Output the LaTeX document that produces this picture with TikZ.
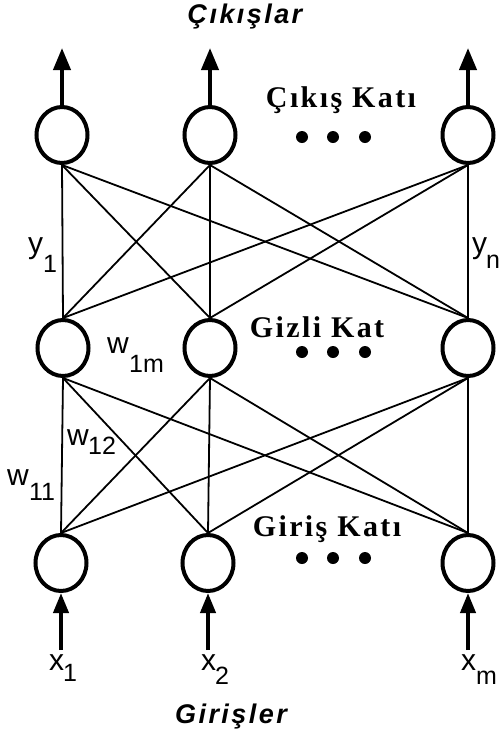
\documentclass[tikz,border=0pt]{standalone}
\usepackage{fontspec}
\usetikzlibrary{shapes.geometric,arrows.meta}
\newfontfamily\labfont{Liberation Sans}
\newfontfamily\titfont[LetterSpace=9]{Liberation Sans}
\newfontfamily\layfont[LetterSpace=8]{Liberation Serif}
\tikzset{
  neuron/.style={ellipse,draw,line width=4pt,minimum width=51pt,minimum height=56pt,inner sep=0pt},
  conn/.style={line width=1.8pt},
  outarrow/.style={line width=4pt,-{Triangle[length=22pt,width=17pt]}},
  inarrow/.style={line width=4pt,-{Triangle[length=20pt,width=15pt]}},
  mainlab/.style={anchor=base west,inner sep=0pt,font=\labfont\fontsize{30}{30}\selectfont},
  sublab/.style={anchor=base west,inner sep=0pt,font=\labfont\fontsize{25}{25}\selectfont},
  titlelab/.style={anchor=base,inner sep=0pt,font=\titfont\bfseries\itshape\fontsize{27}{27}\selectfont},
  layerlab/.style={anchor=base,inner sep=0pt,font=\layfont\bfseries\fontsize{30}{30}\selectfont},
  bigdot/.style={circle,fill,inner sep=0pt,minimum size=12pt}
}
\begin{document}
\begin{tikzpicture}[x=1pt,y=-1pt]
\useasboundingbox (0,0) rectangle (499,737);
% neurons
\node[neuron] (o1) at (62,135) {};
\node[neuron] (o2) at (210,135) {};
\node[neuron] (o3) at (468,135) {};
\node[neuron] (h1) at (63,348) {};
\node[neuron] (h2) at (210,348) {};
\node[neuron] (h3) at (468,348) {};
\node[neuron] (i1) at (61,563) {};
\node[neuron] (i2) at (208,563) {};
\node[neuron] (i3) at (468,563) {};
% connections
\foreach \a in {o1,o2,o3}{
  \foreach \b in {h1,h2,h3}{
    \draw[conn] (\a.south) -- (\b.north);
  }
}
\foreach \a in {h1,h2,h3}{
  \foreach \b in {i1,i2,i3}{
    \draw[conn] (\a.south) -- (\b.north);
  }
}
% output arrows
\coordinate (t1) at (62,48);
\coordinate (t2) at (210,48);
\coordinate (t3) at (468,48);
\draw[outarrow] (o1.north) -- (t1);
\draw[outarrow] (o2.north) -- (t2);
\draw[outarrow] (o3.north) -- (t3);
% input arrows
\coordinate (s1) at (61,650);
\coordinate (s2) at (208,650);
\coordinate (s3) at (468,650);
\draw[inarrow] (s1) -- (i1.south);
\draw[inarrow] (s2) -- (i2.south);
\draw[inarrow] (s3) -- (i3.south);
% titles
\node[titlelab] (tout) at (245,23) {Çıkışlar};
\node[titlelab] (tin) at (231,723) {Girişler};
% layer labels
\node[layerlab] (lo) at (341,107) {Çıkış Katı};
\node[layerlab] (lh) at (317,337) {Gizli Kat};
\node[layerlab] (li) at (327,536) {Giriş Katı};
% dots
\foreach \x [count=\k] in {302,333,365}{
  \node[bigdot] (do\k) at (\x,137) {};
  \node[bigdot] (dh\k) at (\x,352) {};
  \node[bigdot] (di\k) at (\x,558) {};
}
% labels
\node[mainlab] (ly1) at (28,253) {y};
\node[sublab] (ly1s) at (43,272) {1};
\node[mainlab] (lyn) at (472,253) {y};
\node[sublab] (lyns) at (486,268) {n};
\node[mainlab] (lw1m) at (107,353) {w};
\node[sublab] (lw1ms) at (129,372) {1m};
\node[mainlab] (lw12) at (67,445) {w};
\node[sublab] (lw12s) at (88,454) {12};
\node[mainlab] (lw11) at (7,485) {w};
\node[sublab] (lw11s) at (29,500) {11};
\node[mainlab] (lx1) at (49,670) {x};
\node[sublab] (lx1s) at (63,681) {1};
\node[mainlab] (lx2) at (201,670) {x};
\node[sublab] (lx2s) at (215,684) {2};
\node[mainlab] (lxm) at (461,670) {x};
\node[sublab] (lxms) at (476,684) {m};
\end{tikzpicture}
\end{document}
